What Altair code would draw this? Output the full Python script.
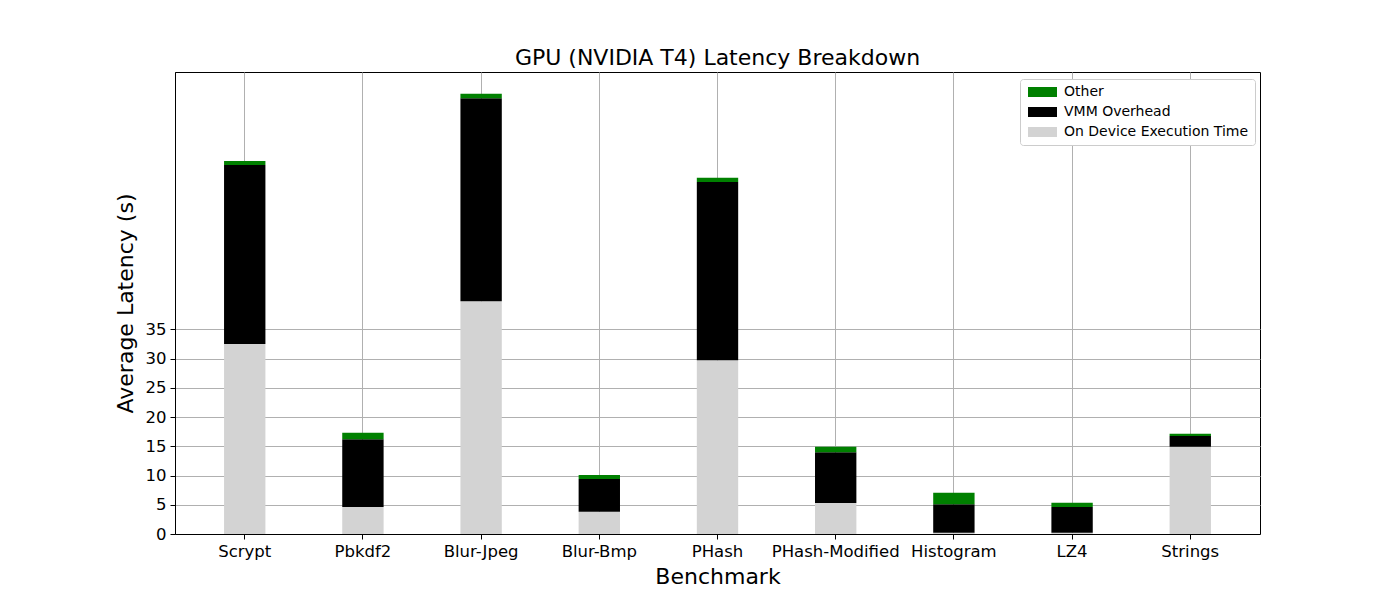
import altair as alt
import pandas as pd

benchmarks = ["Scrypt", "Pbkdf2", "Blur-Jpeg", "Blur-Bmp", "PHash",
              "PHash-Modified", "Histogram", "LZ4", "Strings"]
device = [32.5, 4.6, 39.8, 3.8, 29.7, 5.3, 0.2, 0.2, 14.9]
vmm = [30.6, 11.6, 34.7, 5.6, 30.5, 8.7, 4.9, 4.4, 1.85]
other = [0.7, 1.1, 0.8, 0.7, 0.7, 0.9, 1.95, 0.75, 0.4]

series_names = ["Other", "VMM Overhead", "On Device Execution Time"]
series_colors = ["#008000", "#000000", "#d3d3d3"]
y_ticks = [0, 5, 10, 15, 20, 25, 30, 35]

rows = []
for i, b in enumerate(benchmarks):
    rows.append({"Benchmark": b, "Series": "On Device Execution Time", "Value": device[i], "ord": 0})
    rows.append({"Benchmark": b, "Series": "VMM Overhead", "Value": vmm[i], "ord": 1})
    rows.append({"Benchmark": b, "Series": "Other", "Value": other[i], "ord": 2})
df = pd.DataFrame(rows)

FONT = "DejaVu Sans"

chart = alt.Chart(df).mark_bar().encode(
    x=alt.X("Benchmark:N", sort=benchmarks,
            scale=alt.Scale(paddingInner=0.65, paddingOuter=0.415),
            axis=alt.Axis(title="Benchmark", labelAngle=0, grid=True, bandPosition=0.5,
                          gridColor="#b0b0b0", gridWidth=1, labelFontSize=16.5,
                          titleFontSize=22, titleFontWeight="normal", labelFont=FONT,
                          titleFont=FONT, labelColor="black", titleColor="black",
                          tickColor="black", tickSize=5, domainColor="black",
                          labelPadding=4, titlePadding=7)),
    y=alt.Y("Value:Q", stack="zero",
            scale=alt.Scale(domain=[0, 79], nice=False),
            axis=alt.Axis(title="Average Latency (s)", values=y_ticks, grid=True,
                          gridColor="#b0b0b0", gridWidth=1, labelFontSize=16.5,
                          titleFontSize=22, titleFontWeight="normal", labelFont=FONT,
                          titleFont=FONT, labelColor="black", titleColor="black",
                          tickColor="black", tickSize=5, domainColor="black",
                          labelPadding=4, titlePadding=8)),
    color=alt.Color("Series:N",
                    scale=alt.Scale(domain=series_names, range=series_colors),
                    legend=alt.Legend(title=None, orient="none", legendX=845, legendY=7,
                                      symbolType="M-1,-1H4.8V1H-1Z", symbolSize=100,
                                      symbolStrokeWidth=0, labelOffset=24, labelLimit=400,
                                      labelFontSize=14, labelFont=FONT, labelColor="black",
                                      fillColor="white", strokeColor="#cccccc",
                                      cornerRadius=3, padding=6, rowPadding=6,
                                      symbolOpacity=1)),
    order=alt.Order("ord:Q", sort="ascending"),
).properties(
    width=1085, height=462,
    title=alt.TitleParams("GPU (NVIDIA T4) Latency Breakdown", fontSize=22,
                          font=FONT, fontWeight="normal", color="black", offset=2),
    autosize=alt.AutoSizeParams(type="none"),
    padding={"left": 175, "top": 72, "right": 140, "bottom": 66},
).configure(background="white").configure_view(stroke="black", strokeWidth=1)

chart.save("out.html", embed_options={"renderer": "svg", "actions": False})
